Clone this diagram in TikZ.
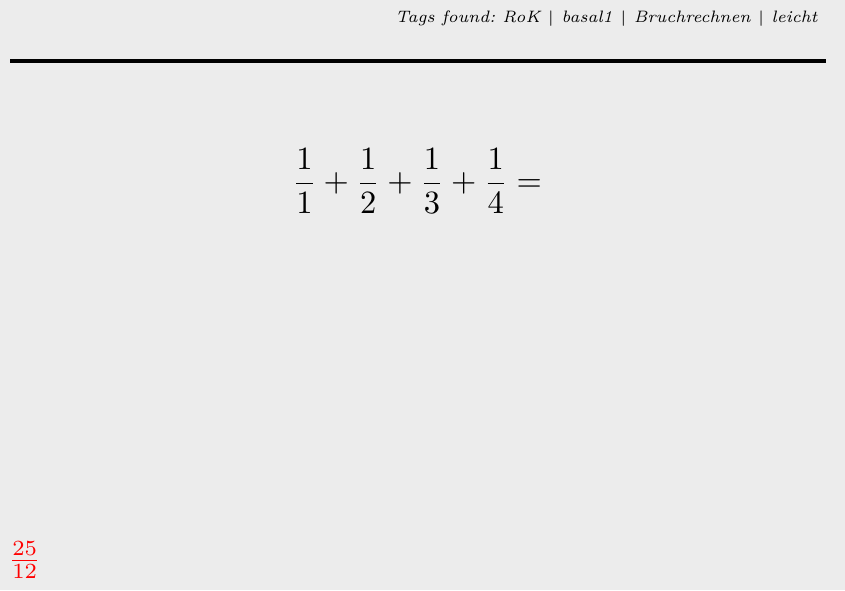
\documentclass[tikz,border=0pt]{standalone}
\usepackage{amsmath}
\usepackage{tikz}
\definecolor{slidebg}{HTML}{ECECEC}
\tikzset{>=stealth}
\tikzset{tagtext/.style={font=\fontsize{5.35}{7}\selectfont\itshape\frenchspacing, anchor=base east, inner sep=0pt},
         solution/.style={text=red, anchor=west, inner sep=0pt}}

\begin{document}
\begin{tikzpicture}
    \fill[slidebg] (0,0) rectangle (9.6,6.705);
    \useasboundingbox (0,0) rectangle (9.6,6.705);
    \coordinate (RuleL) at (0.114,6.012);
    \coordinate (RuleR) at (9.386,6.012);
    \draw[line width=1.3pt] (RuleL) -- (RuleR);
    \node[tagtext] (tags) at (9.295,6.45) {Tags found: RoK $|$ basal1 $|$ Bruchrechnen $|$ leicht};
    \node[scale=1.05] (task) at (4.74,4.648) {$\displaystyle \frac{1}{1}+\frac{1}{2}+\frac{1}{3}+\frac{1}{4}=$};
    \node[solution] (answer) at (0.09,0.34) {$\frac{25}{12}$};
\end{tikzpicture}
\end{document}
